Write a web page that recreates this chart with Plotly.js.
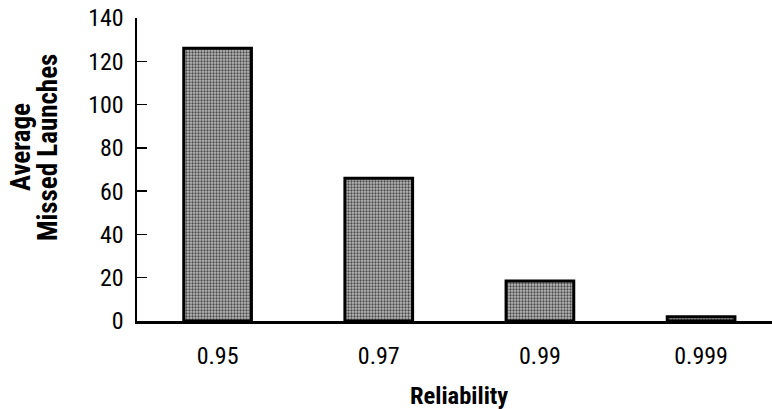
<!DOCTYPE html>
<html>
<head>
<meta charset="utf-8">
<script src="https://cdn.plot.ly/plotly-3.0.1.min.js"></script>
<style>html,body{margin:0;padding:0;background:#fff;}#chart{width:772px;height:409px;}</style>
</head>
<body>
<div id="chart"></div>
<script>
var categories = ['0.95', '0.97', '0.99', '0.999'];
var missedLaunches = [126, 66, 18.5, 2];
var yTickValues = [0, 20, 40, 60, 80, 100, 120, 140];
var xTitle = 'Reliability';
var yTitleLine1 = 'Average';
var yTitleLine2 = 'Missed Launches';

var FONT = '"Liberation Sans Narrow", "Roboto Condensed", "Arial Narrow", "Liberation Sans", sans-serif';

var trace = {
  type: 'bar',
  x: categories,
  y: missedLaunches,
  width: 0.42,
  marker: {
    color: '#9c9c9c',
    line: {color: '#000', width: 3},
    pattern: {shape: '.', fgcolor: '#4a4a4a', bgcolor: '#bababa', size: 3, solidity: 0.45, fillmode: 'replace'}
  },
  hoverinfo: 'none'
};

var layout = {
  width: 772, height: 409,
  margin: {l: 137, r: 0, t: 18, b: 88, pad: 0},
  paper_bgcolor: '#fff', plot_bgcolor: '#fff',
  showlegend: false,
  font: {family: FONT, color: '#000', size: 24},
  xaxis: {
    type: 'category',
    range: [-0.5, 3.44],
    showline: true, linecolor: '#000', linewidth: 2.5,
    ticks: '', showgrid: false, zeroline: false,
    tickfont: {family: FONT, size: 24, color: '#000'},
    ticklabelstandoff: 12
  },
  yaxis: {
    range: [0, 140],
    tickvals: yTickValues,
    ticktext: yTickValues.map(String),
    showline: true, linecolor: '#000', linewidth: 2.5,
    ticks: 'inside', ticklen: 10, tickwidth: 1.5, tickcolor: '#000',
    showgrid: false, zeroline: false,
    tickfont: {family: FONT, size: 24, color: '#000'},
    ticklabelstandoff: 6
  },
  annotations: [
    {text: yTitleLine1, xref: 'paper', yref: 'paper', x: (21 - 137) / 635, y: 0.574,
     xanchor: 'center', yanchor: 'middle',
     textangle: -90, showarrow: false, font: {family: FONT, size: 27, color: '#000', weight: 'bold'}},
    {text: yTitleLine2, xref: 'paper', yref: 'paper', x: (48 - 137) / 635, y: 0.574,
     xanchor: 'center', yanchor: 'middle',
     textangle: -90, showarrow: false, font: {family: FONT, size: 27, color: '#000', weight: 'bold'}},
    {text: xTitle, xref: 'paper', yref: 'paper', x: (459 - 137) / 635, y: -0.245,
     xanchor: 'center', yanchor: 'middle',
     showarrow: false, font: {family: FONT, size: 24.5, color: '#000', weight: 'bold'}}
  ]
};

Plotly.newPlot('chart', [trace], layout, {staticPlot: true, displayModeBar: false});
</script>
</body>
</html>
